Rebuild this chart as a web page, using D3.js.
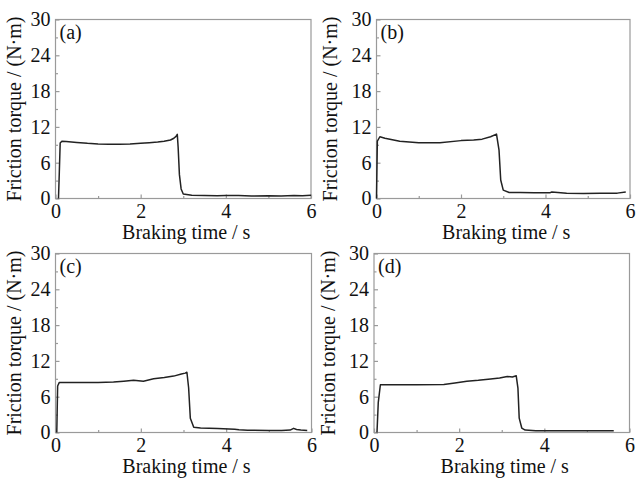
<!DOCTYPE html>
<html>
<head>
<meta charset="utf-8">
<script src="https://cdn.jsdelivr.net/npm/d3@7"></script>
<style>
  html, body { margin: 0; padding: 0; background: #fff; }
  svg { display: block; }
  text { font-family: "Liberation Serif", "Times New Roman", Times, serif; }
</style>
</head>
<body>
<svg id="chart" width="637" height="478"></svg>
<script>
// ---- Data ----
const timeA   = [0.07, 0.09, 0.11, 0.15, 0.25, 0.5, 0.75, 1.0, 1.25, 1.5, 1.75, 2.0, 2.2, 2.4, 2.55, 2.7, 2.78, 2.83, 2.86, 2.88, 2.91, 2.95, 3.0, 3.2, 3.5, 3.8, 4.0, 4.3, 4.6, 5.0, 5.3, 5.6, 5.8, 6.0];
const torqueA = [0, 4.5, 9.3, 9.6, 9.55, 9.4, 9.25, 9.15, 9.1, 9.1, 9.15, 9.25, 9.35, 9.45, 9.6, 9.8, 10.1, 10.4, 10.75, 8.6, 4.0, 1.6, 0.75, 0.55, 0.5, 0.45, 0.5, 0.5, 0.4, 0.45, 0.4, 0.5, 0.45, 0.55];

const timeB   = [0, 0.02, 0.08, 0.2, 0.55, 1.0, 1.5, 2.0, 2.3, 2.5, 2.7, 2.84, 2.9, 2.94, 3.0, 3.14, 3.4, 3.73, 4.1, 4.15, 4.5, 4.9, 5.3, 5.7, 5.9];
const torqueB = [0, 9.6, 10.35, 10.1, 9.6, 9.35, 9.35, 9.7, 9.8, 9.95, 10.35, 10.8, 8.1, 3.1, 1.4, 1.0, 1.0, 0.95, 0.95, 1.1, 0.9, 0.85, 0.9, 0.9, 1.1];

const timeC   = [0.03, 0.05, 0.09, 0.5, 1.0, 1.36, 1.6, 1.83, 2.06, 2.3, 2.55, 2.77, 2.95, 3.04, 3.08, 3.12, 3.16, 3.24, 3.4, 3.8, 4.2, 4.3, 4.5, 5.0, 5.3, 5.5, 5.58, 5.65, 5.75, 5.9];
const torqueC = [0, 7.8, 8.4, 8.4, 8.4, 8.45, 8.6, 8.75, 8.6, 9.0, 9.2, 9.45, 9.8, 9.95, 10.1, 7.5, 2.4, 0.87, 0.75, 0.65, 0.55, 0.45, 0.38, 0.35, 0.35, 0.4, 0.7, 0.5, 0.4, 0.35];

const timeD   = [0.07, 0.1, 0.15, 0.5, 1.0, 1.64, 1.9, 2.18, 2.45, 2.74, 2.95, 3.13, 3.25, 3.34, 3.38, 3.41, 3.47, 3.55, 3.8, 4.5, 5.0, 5.63];
const torqueD = [0, 5.0, 8.0, 8.0, 8.0, 8.05, 8.3, 8.6, 8.75, 8.97, 9.15, 9.4, 9.3, 9.5, 7.45, 2.4, 0.75, 0.4, 0.3, 0.3, 0.3, 0.3];

const panelLetters = ["(a)", "(b)", "(c)", "(d)"];
const xTickValues = [0, 2, 4, 6];
const xMinorValues = [1, 3, 5];
const yTickValues = [0, 6, 12, 18, 24, 30];
const yMinorValues = [3, 9, 15, 21, 27];
const xDomain = [0, 6];
const yDomain = [0, 30];
const xTitle = "Braking time / s";
const yTitle = "Friction torque / (N·m)";

// ---- Layout ----
const series = [
  { t: timeA, v: torqueA },
  { t: timeB, v: torqueB },
  { t: timeC, v: torqueC },
  { t: timeD, v: torqueD }
];
const boxes = [
  { l: 55.5, r: 311,   t: 19.5,  b: 198.5, yl: 20.5 },
  { l: 376.5, r: 630,  t: 19.5,  b: 198.5, yl: 337 },
  { l: 55.5, r: 311.5, t: 253.5, b: 432.5, yl: 20.5 },
  { l: 374,  r: 629.5, t: 253.5, b: 432.5, yl: 335 }
];

const FONT = 20;
const frameColor = "#9a9a9a";
const svg = d3.select("#chart");
svg.append("rect").attr("width", 637).attr("height", 478).attr("fill", "#fff");

boxes.forEach((bx, i) => {
  const x = d3.scaleLinear().domain(xDomain).range([bx.l, bx.r]);
  const y = d3.scaleLinear().domain(yDomain).range([bx.b, bx.t]);
  const g = svg.append("g");

  // frame
  g.append("rect")
    .attr("x", bx.l).attr("y", bx.t)
    .attr("width", bx.r - bx.l).attr("height", bx.b - bx.t)
    .attr("fill", "none").attr("stroke", frameColor).attr("stroke-width", 1.2);

  // major x ticks
  const gx = g.append("g").attr("transform", `translate(0,${bx.b})`)
    .call(d3.axisBottom(x).tickValues(xTickValues).tickSize(-4).tickPadding(5).tickFormat(d3.format("d")));
  // minor x ticks
  const gxm = g.append("g").attr("transform", `translate(0,${bx.b})`)
    .call(d3.axisBottom(x).tickValues(xMinorValues).tickSize(-2.5).tickFormat(""));
  // major y ticks
  const gy = g.append("g").attr("transform", `translate(${bx.l},0)`)
    .call(d3.axisLeft(y).tickValues(yTickValues).tickSize(-4).tickPadding(5).tickFormat(d3.format("d")));
  const gym = g.append("g").attr("transform", `translate(${bx.l},0)`)
    .call(d3.axisLeft(y).tickValues(yMinorValues).tickSize(-2.5).tickFormat(""));

  [gx, gxm, gy, gym].forEach(a => {
    a.select(".domain").remove();
    a.selectAll(".tick line").attr("stroke", frameColor).attr("stroke-width", 1.2);
    a.selectAll("text")
      .attr("fill", "#111")
      .style("font-family", "'Liberation Serif', 'Times New Roman', serif")
      .style("font-size", FONT + "px");
  });

  // data line
  const pts = series[i].t.map((t, k) => [t, series[i].v[k]]);
  g.append("path")
    .datum(pts)
    .attr("fill", "none")
    .attr("stroke", "#222")
    .attr("stroke-width", 1.5)
    .attr("stroke-linejoin", "round")
    .attr("d", d3.line().x(d => x(d[0])).y(d => y(d[1])));

  // panel letter
  g.append("text")
    .attr("x", bx.l + 4).attr("y", bx.t + 19.5)
    .attr("fill", "#111")
    .style("font-size", FONT + "px")
    .text(panelLetters[i]);

  // axis titles
  g.append("text")
    .attr("x", (bx.l + bx.r) / 2 + 3).attr("y", bx.b + 40)
    .attr("text-anchor", "middle")
    .attr("fill", "#111")
    .style("font-size", FONT + "px")
    .text(xTitle);

  g.append("text")
    .attr("transform", `translate(${bx.yl},${(bx.t + bx.b) / 2}) rotate(-90)`)
    .attr("text-anchor", "middle")
    .attr("fill", "#111")
    .style("font-size", FONT + "px")
    .text(yTitle);
});
</script>
</body>
</html>
